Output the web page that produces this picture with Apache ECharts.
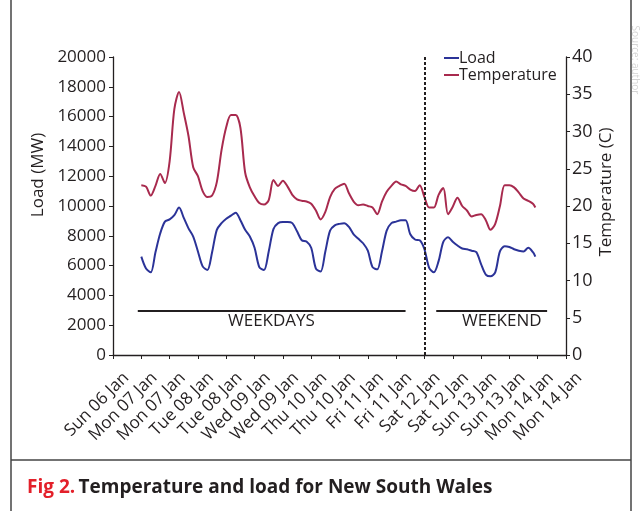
<!DOCTYPE html>
<html>
<head>
<meta charset="utf-8">
<script src="https://cdn.jsdelivr.net/npm/echarts@6/dist/echarts.min.js"></script>
<style>html,body{margin:0;padding:0;background:#fff;}#c{width:640px;height:511px;}</style>
</head>
<body>
<div id="c"></div>
<script>
// x-axis tick labels, one per 12 hours starting Sun 06 Jan 12:00
const tickLabels = ['Sun 06 Jan','Mon 07 Jan','Mon 07 Jan','Tue 08 Jan','Tue 08 Jan','Wed 09 Jan','Wed 09 Jan',
  'Thu 10 Jan','Thu 10 Jan','Fri 11 Jan','Fri 11 Jan','Sat 12 Jan','Sat 12 Jan','Sun 13 Jan','Sun 13 Jan',
  'Mon 14 Jan','Mon 14 Jan'];
// sample times, hours after Sun 06 Jan 12:00
const hours = [12,14,16,18,20,22,24,26,28,30,32,34,36,38,40,42,44,46,48,50,52,54,56,58,60,62,64,66,68,70,
  72,74,76,78,80,82,84,86,88,90,92,94,96,98,100,102,104,106,108,110,112,114,116,118,120,122,124,126,128,130,
  132,134,136,138,140,142,144,146,148,150,152,154,156,158,160,162,164,166,168,170,172,174,176,178,179];
const loadMW = [6600,5800,5550,6900,8150,8950,9100,9380,9900,9200,8500,7950,6950,5950,5700,6900,8400,8850,9150,9350,
  9550,9050,8400,7950,7200,5900,5700,6950,8450,8850,8920,8920,8850,8300,7700,7620,7200,5800,5600,6950,
  8350,8700,8800,8850,8600,8100,7800,7500,7000,5900,5750,6950,8350,8850,8950,9050,9050,8100,7750,7700,
  7100,5850,5550,6300,7600,7900,7600,7350,7150,7100,7000,6900,6100,5400,5280,5550,6950,7300,7250,7100,
  7000,6950,7200,6900,6600];
const tempC = [22.8,22.6,21.4,22.7,24.3,23.1,26.0,33.0,35.3,32.5,29.4,25.2,24.0,22.0,21.2,21.4,23.2,27.5,30.6,32.2,
  32.2,30.5,24.5,22.5,21.3,20.4,20.2,20.8,23.5,22.7,23.4,22.6,21.5,20.9,20.7,20.6,20.3,19.4,18.2,19.2,
  21.2,22.3,22.7,23.0,21.7,20.6,20.1,20.2,20.0,19.8,18.9,20.6,21.9,22.7,23.3,22.9,22.7,22.2,22.0,22.8,
  21.2,19.8,19.8,21.5,22.4,18.9,19.9,21.1,20.0,19.4,18.6,18.8,18.9,18.1,16.8,17.6,20.0,22.8,22.8,22.5,
  21.8,21.0,20.7,20.3,19.8];
const weekendStart = 132; // Sat 12 Jan 00:00
const weekdaysSpan = [10.5, 124];
const weekendSpan = [137, 184];
const bandLevel = 3000;

const txt = '#231f20';
const font = "'Open Sans', sans-serif";
const chart = echarts.init(document.getElementById('c'));
chart.setOption({
  animation: false,
  textStyle: {fontFamily: font, color: txt},
  grid: {left: 113, right: 74, top: 57, bottom: 156},
  legend: {
    orient: 'vertical', left: 439, top: 45, itemGap: 1,
    itemWidth: 15, itemHeight: 2, icon: 'rect',
    textStyle: {fontSize: 16, color: txt, fontFamily: font, padding: [0,0,0,-5]},
    data: ['Load', 'Temperature']
  },
  xAxis: {
    type: 'value', min: 0, max: 192, interval: 12,
    axisLine: {lineStyle: {color: txt, width: 1.3}},
    axisTick: {length: 4, lineStyle: {color: txt}},
    splitLine: {show: false},
    axisLabel: {
      rotate: 45, fontSize: 17, color: txt, margin: 7, fontFamily: font,
      verticalAlign: 'top', padding: [10, 0, 0, 0],
      formatter: v => tickLabels[Math.round(v / 12)] || ''
    }
  },
  yAxis: [{
    type: 'value', min: 0, max: 20000, interval: 2000,
    axisLine: {show: true, lineStyle: {color: txt, width: 1.3}},
    axisTick: {show: true, length: 4, lineStyle: {color: txt}},
    splitLine: {show: false},
    axisLabel: {fontSize: 17, color: txt, margin: 7, fontFamily: font, formatter: v => String(v)}
  }, {
    type: 'value', min: 0, max: 40, interval: 5, position: 'right',
    axisLine: {show: true, lineStyle: {color: txt, width: 1.3}},
    axisTick: {show: true, length: 4, lineStyle: {color: txt}},
    splitLine: {show: false},
    axisLabel: {fontSize: 18, color: txt, margin: 6, fontFamily: font, formatter: v => String(v)}
  }],
  series: [{
    name: 'Load', type: 'line', yAxisIndex: 0, showSymbol: false, symbol: 'none', smooth: 0.3,
    lineStyle: {color: '#2b3398', width: 2}, itemStyle: {color: '#2b3398'},
    data: hours.map((h, i) => [h, loadMW[i]]),
    markLine: {
      silent: true, symbol: 'none', label: {show: false},
      data: [
        [{coord: [weekdaysSpan[0], bandLevel]}, {coord: [weekdaysSpan[1], bandLevel]}],
        [{coord: [weekendSpan[0], bandLevel]}, {coord: [weekendSpan[1], bandLevel]}]
      ],
      lineStyle: {color: txt, width: 1.8, type: 'solid'}
    }
  }, {
    name: 'Temperature', type: 'line', yAxisIndex: 1, showSymbol: false, symbol: 'none', smooth: 0.3,
    lineStyle: {color: '#a82a4e', width: 2}, itemStyle: {color: '#a82a4e'},
    data: hours.map((h, i) => [h, tempC[i]]),
    markLine: {
      silent: true, symbol: 'none', label: {show: false},
      data: [{xAxis: weekendStart}],
      lineStyle: {color: txt, width: 2, type: [3, 2]}
    }
  }],
  graphic: [
    {type: 'text', left: 228, top: 313, style: {text: 'WEEKDAYS', font: "17px 'Open Sans'", fill: txt}},
    {type: 'text', left: 462, top: 313, style: {text: 'WEEKEND', font: "17px 'Open Sans'", fill: txt}},
    {type: 'text', x: 38, y: 175, rotation: Math.PI / 2,
      style: {text: 'Load (MW)', font: "17px 'Open Sans'", fill: txt, align: 'center', verticalAlign: 'middle'}},
    {type: 'text', x: 606, y: 192, rotation: Math.PI / 2,
      style: {text: 'Temperature (C)', font: "17px 'Open Sans'", fill: txt, align: 'center', verticalAlign: 'middle'}},
    {type: 'text', x: 635, y: 60, rotation: -Math.PI / 2,
      style: {text: 'Source: author', font: "10px 'Open Sans'", fill: '#d4d4d4', align: 'center', verticalAlign: 'middle'}},
    {type: 'line', shape: {x1: 11, y1: 0, x2: 11, y2: 511}, style: {stroke: '#444', lineWidth: 1.5}},
    {type: 'line', shape: {x1: 631, y1: 0, x2: 631, y2: 511}, style: {stroke: '#444', lineWidth: 1.5}},
    {type: 'line', shape: {x1: 11, y1: 460, x2: 631, y2: 460}, style: {stroke: '#444', lineWidth: 1.5}},
    {type: 'text', left: 27, top: 478, style: {
      text: '{a|Fig 2.} {b|Temperature and load for New South Wales}',
      rich: {
        a: {fill: '#e3202a', fontWeight: 'bold', fontSize: 19, fontFamily: font},
        b: {fill: txt, fontWeight: 'bold', fontSize: 19, fontFamily: font}
      }
    }}
  ]
});
</script>
</body>
</html>
